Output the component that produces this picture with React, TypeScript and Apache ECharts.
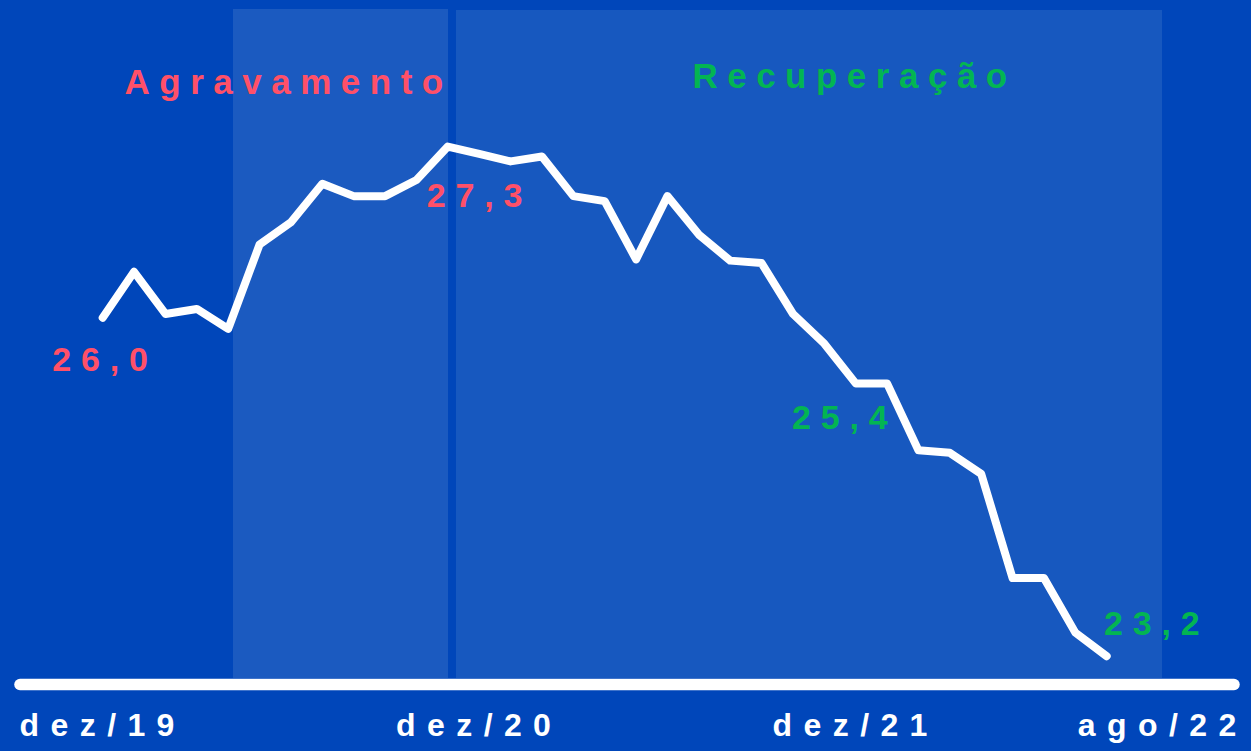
import React, { useEffect, useRef } from "react";
import * as echarts from "echarts";

const months = [
  "dez/19", "jan/20", "fev/20", "mar/20", "abr/20", "mai/20", "jun/20", "jul/20", "ago/20", "set/20", "out/20", "nov/20",
  "dez/20", "jan/21", "fev/21", "mar/21", "abr/21", "mai/21", "jun/21", "jul/21", "ago/21", "set/21", "out/21", "nov/21",
  "dez/21", "jan/22", "fev/22", "mar/22", "abr/22", "mai/22", "jun/22", "jul/22", "ago/22",
];
const values = [
  25.96, 26.33, 25.99, 26.03, 25.87, 26.55, 26.73, 27.04, 26.94, 26.94, 27.07, 27.34,
  27.28, 27.22, 27.26, 26.94, 26.9, 26.43, 26.94, 26.63, 26.42, 26.4, 25.99, 25.75,
  25.43, 25.43, 24.89, 24.87, 24.7, 23.86, 23.86, 23.42, 23.23,
];
const shownTicks = [0, 12, 24, 32];
const phases = ["Agravamento", "Recuperação"];
const labelledPoints = [0, 11, 24, 32];

const RED = "#FF5068";
const GREEN = "#03B552";
const BG = "#0046BA";
const FONT = "'Liberation Sans', Arial, sans-serif";

// label placement (style only)
const labelStyle: Record<number, { color: string; dx: number; dy: number }> = {
  0: { color: RED, dx: -50.4, dy: 41.2 },
  11: { color: RED, dx: -21, dy: 48.7 },
  24: { color: GREEN, dx: -63.7, dy: 33.4 },
  32: { color: GREEN, dx: -2.7, dy: -33.4 },
};

export default function App() {
  const ref = useRef<HTMLDivElement>(null);
  useEffect(() => {
    if (!ref.current) return;
    const chart = echarts.init(ref.current, null, { renderer: "svg" });

    const applySpacing = () => {
      if (!ref.current) return;
      ref.current.querySelectorAll("text").forEach((t) => {
        const s = t.textContent || "";
        let ls = 9.8;
        if (months.includes(s)) ls = 11.4;
        else if (phases.includes(s)) ls = 9.5;
        t.setAttribute("letter-spacing", String(ls));
        (t as any).style.letterSpacing = ls + "px";
      });
    };
    chart.on("finished", applySpacing);

    const seriesData = values.map((v, i) => {
      if (!labelledPoints.includes(i)) return v;
      const ls = labelStyle[i];
      return {
        value: v,
        label: {
          show: true,
          position: [ls.dx + 0.5, ls.dy + 0.5],
          align: "left",
          verticalAlign: "middle",
          color: ls.color,
          fontSize: 34,
          fontWeight: "bold",
          fontFamily: FONT,
          formatter: (p: any) => Number(p.value).toFixed(1).replace(".", ","),
        },
      };
    });

    const axisData = months.map((m, i) =>
      i === months.length - 1 ? { value: m, textStyle: { padding: [0, 0, 0, 112] } } : m
    );

    chart.setOption({
      animation: false,
      backgroundColor: BG,
      grid: { left: 102.7, right: 144.3, top: 2.7, bottom: 66.3, containLabel: false },
      xAxis: {
        type: "category",
        boundaryGap: false,
        data: axisData,
        axisLine: { show: false },
        axisTick: { show: false },
        splitLine: { show: false },
        axisLabel: {
          color: "#ffffff",
          fontSize: 32,
          fontWeight: "bold",
          fontFamily: FONT,
          margin: 24,
          interval: (i: number) => shownTicks.includes(i),
          hideOverlap: false,
        },
      },
      yAxis: {
        type: "value",
        min: 23,
        max: 28.5,
        show: false,
        splitLine: { show: false },
      },
      graphic: [
        { type: "rect", z: 0, shape: { x: 233, y: 9, width: 215, height: 669 }, style: { fill: "#1B5AC0" } },
        { type: "rect", z: 0, shape: { x: 456, y: 10, width: 706, height: 668 }, style: { fill: "#1758BF" } },
        {
          type: "line",
          z: 20,
          shape: { x1: 20, y1: 684.5, x2: 1234, y2: 684.5 },
          style: { stroke: "#ffffff", lineWidth: 11.5, lineCap: "round" },
        },
        {
          type: "text",
          z: 20,
          x: 124.5,
          y: 81.2,
          style: { text: phases[0], fill: RED, font: `bold 35px ${FONT}`, align: "left", verticalAlign: "middle" },
        },
        {
          type: "text",
          z: 20,
          x: 692.4,
          y: 75.8,
          style: { text: phases[1], fill: GREEN, font: `bold 35px ${FONT}`, align: "left", verticalAlign: "middle" },
        },
      ],
      series: [
        {
          type: "line",
          z: 10,
          data: seriesData,
          symbol: "circle",
          symbolSize: 1,
          showSymbol: true,
          showAllSymbol: true,
          itemStyle: { color: "#ffffff" },
          lineStyle: { color: "#ffffff", width: 8, join: "round", cap: "round" },
          label: { show: false },
          emphasis: { disabled: true },
        },
      ],
    });
    applySpacing();
    const t = setTimeout(applySpacing, 50);

    return () => {
      clearTimeout(t);
      chart.dispose();
    };
  }, []);

  return (
    <div
      ref={ref}
      style={{ position: "fixed", left: 0, top: 0, width: 1251, height: 751, background: BG }}
    />
  );
}
